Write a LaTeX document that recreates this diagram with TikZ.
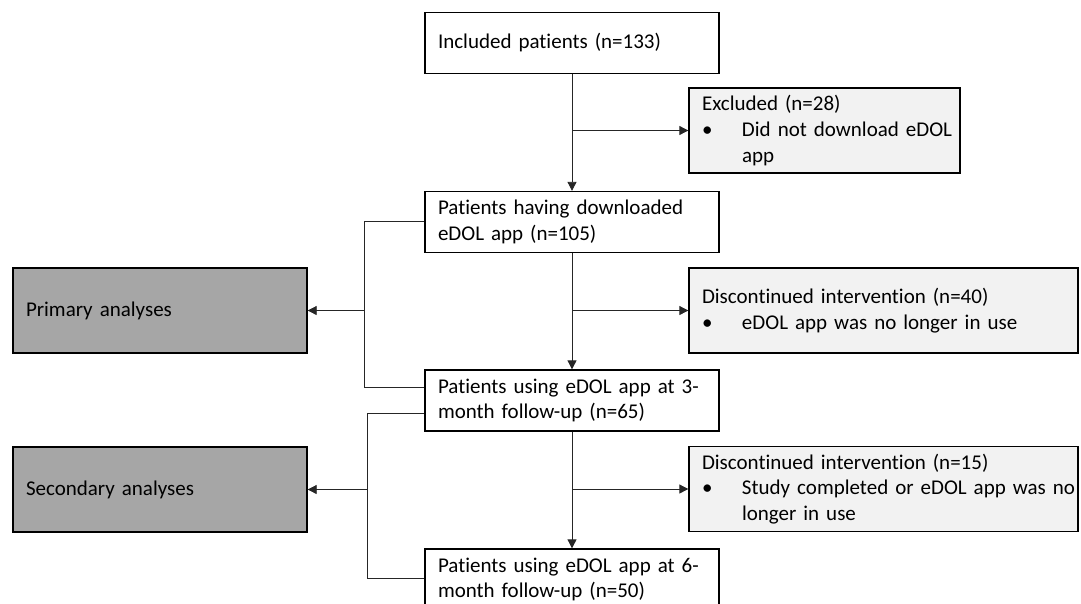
\documentclass[tikz,border=0pt]{standalone}
\usepackage{fontspec}
\setmainfont{Carlito}[Ligatures=NoCommon]
\usetikzlibrary{arrows.meta,positioning,calc}
\definecolor{sidefill}{HTML}{F2F2F2}
\definecolor{analysisfill}{HTML}{A6A6A6}
\tikzset{
    flow box/.style={
        draw,line width=1.3pt,
        fill=white,
        minimum width=294pt,minimum height=61pt,
        text width=268pt,inner xsep=13pt,inner ysep=0pt,align=left,
        font=\fontsize{21}{25.6}\selectfont
    },
    side box/.style={
            flow box,fill=sidefill,
            minimum height=85pt
        },
    analysis box/.style={
            flow box,fill=analysisfill,
            minimum height=85pt
        },
    link/.style={line width=0.8pt,black!85},
    >={Triangle[length=9pt,width=9pt]}
}
\newcommand{\bulline}[1]{\mbox{\makebox[40pt][l]{\textbullet}#1}}
\newcommand{\indline}[1]{\mbox{\hspace*{40pt}#1}}

\begin{document}
\begin{tikzpicture}[x=1pt,y=-1pt]
\useasboundingbox (0,0) rectangle (1081,603);
\clip (0,0) rectangle (1081,603);
\node[flow box] (incl) at (572,43) {Included patients (n=133)};
\node[flow box] (down) at (572,222) {Patients having downloaded\\eDOL app (n=105)};
\node[flow box] (m3) at (572,400.5) {Patients using eDOL app at 3-\\month follow-up (n=65)};
\node[flow box] (m6) at (572,579.5) {Patients using eDOL app at 6-\\month follow-up (n=50)};

\node[side box,minimum width=271pt,text width=245pt] (excl) at (824.5,130.5)
    {Excluded (n=28)\\\bulline{Did not download eDOL}\\\indline{app}};
\node[side box,minimum width=389pt,text width=363pt] (disc40) at (883.5,310.5)
    {Discontinued intervention (n=40)\\\bulline{eDOL app was no longer in use}};
\node[side box,minimum width=389pt,text width=363pt] (disc15) at (883.5,489)
    {Discontinued intervention (n=15)\\\bulline{Study completed or eDOL app was no}\\\indline{longer in use}};

\node[analysis box] (primary) at (160,310.5) {Primary analyses};
\node[analysis box] (secondary) at (160,489.5) {Secondary analyses};

% main flow
\draw[link,->] (incl) -- (down);
\draw[link,->] (incl.south |- excl.west) -- (excl.west);
\draw[link,->] (down) -- (m3);
\draw[link,->] (down.south |- disc40.west) -- (disc40.west);
\draw[link,->] (m3) -- (m6);
\draw[link,->] (m3.south |- disc15.west) -- (disc15.west);

% analysis brackets
\coordinate (prim top) at (364,221);
\coordinate (prim bot) at (364,387);
\draw[link] (down.west |- prim top) -- (prim top) -- (prim bot) -- (m3.west |- prim bot);
\draw[link,->] (prim top |- primary.east) -- (primary.east);
\coordinate (sec top) at (367,413);
\coordinate (sec bot) at (367,578);
\draw[link] (m3.west |- sec top) -- (sec top) -- (sec bot) -- (m6.west |- sec bot);
\draw[link,->] (sec top |- secondary.east) -- (secondary.east);
\end{tikzpicture}
\end{document}
